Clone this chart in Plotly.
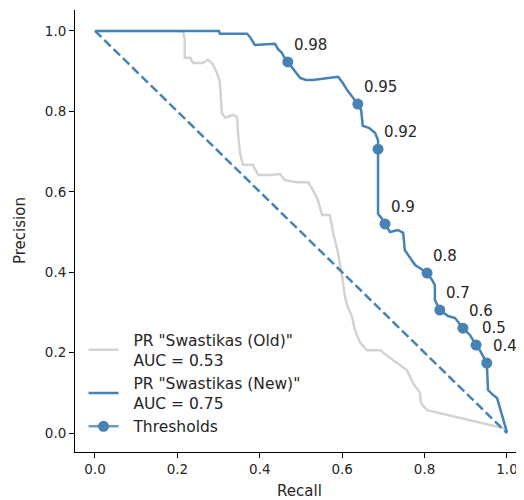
import plotly.graph_objects as go

# ---- data ----
old_recall = [0.0, 0.199, 0.214, 0.218, 0.218, 0.231, 0.238, 0.262, 0.274, 0.284, 0.296, 0.303,
              0.308, 0.316, 0.335, 0.345, 0.347, 0.352, 0.359, 0.383, 0.396, 0.425, 0.449, 0.461,
              0.490, 0.517, 0.529, 0.541, 0.551, 0.570, 0.578, 0.590, 0.600, 0.607, 0.614, 0.624,
              0.631, 0.643, 0.660, 0.692, 0.723, 0.757, 0.772, 0.789, 0.791, 0.806, 1.0]
old_precision = [1.0, 1.0, 0.998, 0.978, 0.933, 0.933, 0.920, 0.920, 0.928, 0.920, 0.896, 0.873,
                 0.796, 0.784, 0.791, 0.786, 0.746, 0.697, 0.667, 0.667, 0.642, 0.642, 0.644, 0.629,
                 0.624, 0.624, 0.604, 0.580, 0.542, 0.542, 0.498, 0.448, 0.388, 0.338, 0.313, 0.289,
                 0.256, 0.226, 0.206, 0.206, 0.182, 0.157, 0.124, 0.100, 0.075, 0.057, 0.01]

new_recall = [0.0, 0.301, 0.303, 0.369, 0.376, 0.383, 0.388, 0.437, 0.444, 0.454, 0.459, 0.468,
              0.478, 0.488, 0.498, 0.512, 0.529, 0.590, 0.600, 0.612, 0.624, 0.638, 0.646, 0.650,
              0.665, 0.680, 0.687, 0.687, 0.687, 0.699, 0.704, 0.716, 0.735, 0.748, 0.752, 0.765,
              0.777, 0.789, 0.806, 0.818, 0.825, 0.825, 0.837, 0.857, 0.874, 0.893, 0.910, 0.925,
              0.934, 0.951, 0.954, 0.966, 0.976, 1.0]
new_precision = [1.0, 1.0, 0.993, 0.993, 0.985, 0.973, 0.965, 0.968, 0.955, 0.945, 0.935, 0.923,
                 0.910, 0.898, 0.883, 0.878, 0.878, 0.886, 0.873, 0.853, 0.836, 0.818, 0.803, 0.764,
                 0.759, 0.746, 0.729, 0.706, 0.545, 0.530, 0.520, 0.500, 0.505, 0.498, 0.455, 0.435,
                 0.418, 0.410, 0.398, 0.381, 0.368, 0.331, 0.306, 0.291, 0.286, 0.261, 0.244, 0.219,
                 0.206, 0.174, 0.107, 0.095, 0.087, 0.002]

thr_labels = ["0.98", "0.95", "0.92", "0.9", "0.8", "0.7", "0.6", "0.5", "0.4"]
thr_recall = [0.468, 0.638, 0.687, 0.704, 0.806, 0.837, 0.893, 0.925, 0.951]
thr_precision = [0.923, 0.818, 0.706, 0.520, 0.398, 0.306, 0.261, 0.219, 0.174]

diag_x = [0.0, 1.0]
diag_y = [1.0, 0.0]

x_ticks = [0.0, 0.2, 0.4, 0.6, 0.8, 1.0]
y_ticks = [0.0, 0.2, 0.4, 0.6, 0.8, 1.0]

NB = "\u00a0\u00a0"
legend_old = NB + 'PR "Swastikas (Old)"<br>' + NB + 'AUC = 0.53'
legend_new = NB + 'PR "Swastikas (New)"<br>' + NB + 'AUC = 0.75'
legend_thr = NB + "Thresholds"

# ---- styles ----
BLUE = "#4682b4"
GREY = "#d3d3d3"
FONT = "DejaVu Sans"
TXT = "#262626"

fig = go.Figure()

fig.add_trace(go.Scatter(x=old_recall, y=old_precision, mode="lines",
                         line=dict(color=GREY, width=2.5), name=legend_old))
fig.add_trace(go.Scatter(x=new_recall, y=new_precision, mode="lines",
                         line=dict(color=BLUE, width=2.5), name=legend_new))
fig.add_trace(go.Scatter(x=diag_x, y=diag_y, mode="lines",
                         line=dict(color=BLUE, width=2.5, dash="9px,4px"), showlegend=False))
fig.add_trace(go.Scatter(x=thr_recall, y=thr_precision, mode="markers",
                         marker=dict(color=BLUE, size=11), showlegend=False))
# legend-only entry for thresholds (line + marker)
fig.add_trace(go.Scatter(x=[None], y=[None], mode="lines+markers", name=legend_thr,
                         line=dict(color="rgba(70,130,180,0.8)", width=2.5),
                         marker=dict(color=BLUE, size=11)))

for lx, ly, lt in zip(thr_recall, thr_precision, thr_labels):
    fig.add_annotation(x=lx, y=ly, text=lt, showarrow=False, xanchor="left", yanchor="middle",
                       xshift=4, yshift=17, font=dict(family=FONT, size=15, color=TXT))

# y-axis title as a rotated annotation (placed closer to the axis than standoff allows)
fig.add_annotation(xref="paper", yref="paper", x=0, y=0.5, text="Precision", showarrow=False,
                   textangle=-90, xanchor="center", yanchor="middle", xshift=-55,
                   font=dict(family=FONT, size=15, color=TXT))

# page body has an 8px margin: the figure is drawn 8px right/down of the window origin
fig.update_layout(
    width=516, height=492,
    margin=dict(l=67, r=0, t=2, b=48),
    paper_bgcolor="white", plot_bgcolor="white",
    font=dict(family=FONT, color=TXT, size=15),
    legend=dict(x=0.019, y=0.02, xanchor="left", yanchor="bottom",
                bgcolor="rgba(255,255,255,0)", font=dict(size=15.5, family=FONT, color=TXT),
                itemwidth=30, tracegroupgap=0),
)
fig.update_xaxes(range=[-0.0485, 1.0413], tickvals=x_ticks, ticktext=[f"{v:.1f}" for v in x_ticks],
                 showgrid=False, zeroline=False, showline=True, linecolor="black", linewidth=1,
                 ticks="outside", ticklen=5, tickcolor="black", tickfont=dict(size=13.5, family=FONT, color=TXT),
                 title=dict(text="Recall", standoff=12, font=dict(size=15, family=FONT, color=TXT)))
fig.update_yaxes(range=[-0.047, 1.052], tickvals=y_ticks, ticktext=[f"{v:.1f}" for v in y_ticks],
                 showgrid=False, zeroline=False, showline=True, linecolor="black", linewidth=1,
                 ticks="outside", ticklen=5, tickcolor="black", tickfont=dict(size=13.5, family=FONT, color=TXT))

fig.write_html("out.html")
